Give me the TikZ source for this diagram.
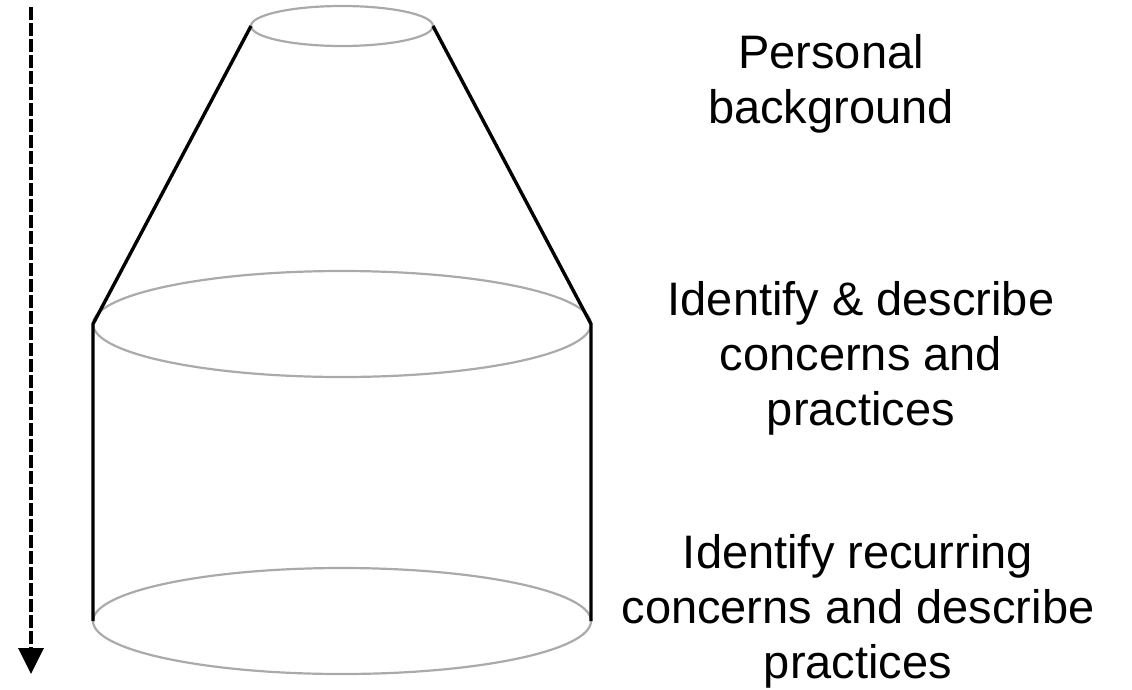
\documentclass[tikz,border=0pt]{standalone}
\usepackage{fontspec}
\setmainfont{Liberation Sans}
\usepackage{tikz}
\usetikzlibrary{shapes.geometric,arrows.meta}
\definecolor{rim}{RGB}{170,170,170}

\begin{document}
\begin{tikzpicture}[x=1pt, y=-1pt,
    disc/.style={ellipse, draw=rim, line width=2.2pt, inner sep=0pt, outer sep=0pt},
    wall/.style={line width=3.4pt},
    stage/.style={align=center, anchor=base, inner sep=0pt, font=\fontsize{47}{55}\selectfont}]
          \useasboundingbox (0, 0) rectangle (1132, 689);
          \node[disc, minimum width=182pt, minimum height=40pt] (TE) at (342, 26) {}; 
          \node[disc, minimum width=498pt, minimum height=106pt] (ME) at (342, 324) {}; 
          \node[disc, minimum width=498pt, minimum height=106pt] (BE) at (342, 621) {}; 
          \draw [wall] (TE.west) -- (ME.west) -- (BE.west); 
          \draw [wall] (TE.east) -- (ME.east) -- (BE.east); 
          \node[stage] (TT) at (831, 123) {Personal\\background}; 
          \node[stage] (MT) at (861, 425) {Identify \& describe\\concerns and\\practices}; 
          \node[stage] (BT) at (858, 678) {Identify recurring\\concerns and describe\\practices}; 
          \coordinate (AS) at (31, 7); 
          \coordinate (AE) at (31, 674); 
          \draw [line width=3.6pt, dash pattern=on 12.7pt off 3.3pt, -{Triangle[length=26pt, width=25pt]}] (AS) -- (AE); 
  \end{tikzpicture}
\end{document}
